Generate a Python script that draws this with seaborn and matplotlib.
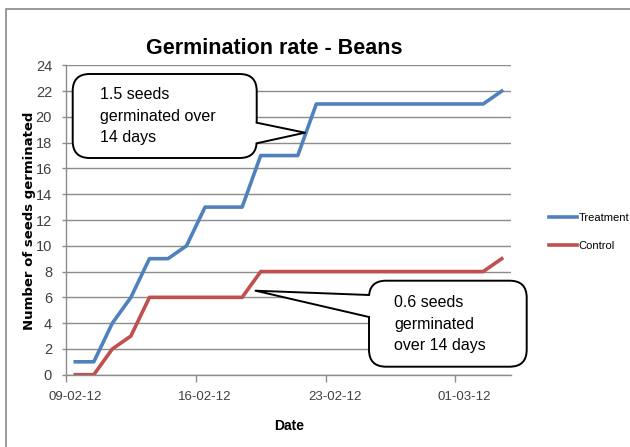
import pandas as pd
import matplotlib
matplotlib.use("Agg")
import matplotlib.pyplot as plt
from matplotlib.patches import FancyBboxPatch, Polygon, Rectangle
from matplotlib.lines import Line2D
import seaborn as sns

# ===============================
# Data
# ===============================
dates = ["2012-02-09", "2012-02-10", "2012-02-11", "2012-02-12", "2012-02-13",
         "2012-02-14", "2012-02-15", "2012-02-16", "2012-02-17", "2012-02-18",
         "2012-02-19", "2012-02-20", "2012-02-21", "2012-02-22", "2012-02-23",
         "2012-02-24", "2012-02-25", "2012-02-26", "2012-02-27", "2012-02-28",
         "2012-02-29", "2012-03-01", "2012-03-02", "2012-03-03"]
treatment = [1, 1, 4, 6, 9, 9, 10, 13, 13, 13, 17, 17, 17,
             21, 21, 21, 21, 21, 21, 21, 21, 21, 21, 22]
control = [0, 0, 2, 3, 6, 6, 6, 6, 6, 6, 8, 8, 8,
           8, 8, 8, 8, 8, 8, 8, 8, 8, 8, 9]
series_names = ["Treatment", "Control"]
tick_dates = ["2012-02-09", "2012-02-16", "2012-02-23", "2012-03-01"]
tick_labels = ["09-02-12", "16-02-12", "23-02-12", "01-03-12"]
y_ticks = [0, 2, 4, 6, 8, 10, 12, 14, 16, 18, 20, 22, 24]
note_treatment = "1.5 seeds\ngerminated over\n14 days"
note_control = "0.6 seeds\ngerminated\nover 14 days"

colors = {"Treatment": "#4F81BD", "Control": "#C0504D"}
sans = ["Liberation Sans", "DejaVu Sans"]
grey = "#8c8c8c"

df = pd.DataFrame({
    "Date": pd.to_datetime(dates * 2),
    "Seeds": treatment + control,
    "Series": [series_names[0]] * len(dates) + [series_names[1]] * len(dates),
})

# ===============================
# Figure / axes layout (pixels)
# ===============================
W, H = 630, 447
fig = plt.figure(figsize=(W / 100, H / 100), dpi=100)
fig.patch.set_facecolor("white")
ax = fig.add_axes([66 / W, 1 - 374.7 / H, (511 - 66) / W, (374.7 - 65.3) / H])

sns.lineplot(data=df, x="Date", y="Seeds", hue="Series", palette=colors,
             linewidth=2.6, ax=ax, legend=False)

half = pd.Timedelta(hours=12)
ax.set_xlim(pd.Timestamp(dates[0]) - half, pd.Timestamp(dates[-1]) + half)
ax.set_ylim(0, 24)

ax.set_yticks(y_ticks)
ax.set_yticklabels([str(v) for v in y_ticks], family=sans, fontsize=10.5, color="#404040")
ax.set_xticks(pd.to_datetime(tick_dates))
ax.set_xticklabels(tick_labels, family=sans, fontsize=9.5, color="#404040")
ax.set_xticks(pd.to_datetime(tick_dates) - half, minor=True)
ax.tick_params(axis="x", which="major", length=0, pad=12)
ax.tick_params(axis="x", which="minor", length=5, color=grey, width=1)
ax.tick_params(axis="y", length=3, color=grey, width=1, pad=7)

ax.yaxis.grid(True, color=grey, linewidth=1)
ax.set_axisbelow(True)
for side in ["top", "right"]:
    ax.spines[side].set_visible(False)
for side in ["left", "bottom"]:
    ax.spines[side].set_color(grey)
    ax.spines[side].set_linewidth(1)
ax.set_facecolor("white")
ax.set_xlabel("")
ax.set_ylabel("")

# titles and axis labels
fig.text(274 / W, 1 - 49 / H, "Germination rate - Beans", ha="center", va="center",
         family=sans, fontweight="bold", fontsize=15.5)
fig.text(30 / W, 1 - 221 / H, "Number of seeds germinated", rotation=90,
         ha="center", va="center", family="DejaVu Sans", fontweight="bold",
         fontsize=9.5)
fig.text(289 / W, 1 - 426 / H, "Date", ha="center", va="center",
         family=sans, fontweight="bold", fontsize=10)

# legend
handles = [Line2D([], [], color=colors[n], linewidth=2.6) for n in series_names]
leg = fig.legend(handles, series_names, loc="center left",
                 bbox_to_anchor=(543 / W, 1 - 232 / H), frameon=False,
                 prop={"family": sans, "size": 8}, handlelength=2.6,
                 handletextpad=0.1, labelspacing=1.55, borderpad=0)

# outer chart-area border
inch = fig.dpi_scale_trans
fig.add_artist(Rectangle((5.6 / 100, -1), 10, (H - 9) / 100 + 1, transform=inch,
                         fill=False, edgecolor="#888888", linewidth=1.2, zorder=1))


# ===============================
# Callouts
# ===============================
def callout(x0, y0, x1, y1, base, tip, text, tx, ty):
    box = FancyBboxPatch((x0 / 100, (H - y1) / 100), (x1 - x0) / 100, (y1 - y0) / 100,
                         boxstyle="round,pad=0,rounding_size=0.17", transform=inch,
                         facecolor="white", edgecolor="black", linewidth=1.4, zorder=5)
    fig.add_artist(box)
    (bx1, by1), (bx2, by2) = base
    inset = 2 if bx1 >= x1 - 1 else -2
    pts = [((bx1 - inset) / 100, (H - by1) / 100), (tip[0] / 100, (H - tip[1]) / 100),
           ((bx2 - inset) / 100, (H - by2) / 100)]
    fig.add_artist(Polygon(pts, closed=True, transform=inch, facecolor="white",
                           edgecolor="none", zorder=6))
    fig.add_artist(Line2D([bx1 / 100, tip[0] / 100, bx2 / 100],
                          [(H - by1) / 100, (H - tip[1]) / 100, (H - by2) / 100],
                          transform=inch, color="black", linewidth=1.4, zorder=7))
    fig.text(tx / W, 1 - ty / H, text, ha="left", va="top", family=sans,
             fontsize=11.5, linespacing=1.55, zorder=8)


callout(72.7, 74, 256.7, 158, ((256.7, 122.7), (256.7, 143.3)), (305, 132.7),
        note_treatment, 100, 87)
callout(369, 280.7, 526.7, 366.7, ((369, 295), (369, 317)), (255.5, 290.7),
        note_control, 394, 295)

fig.savefig("out.png", dpi=100)
